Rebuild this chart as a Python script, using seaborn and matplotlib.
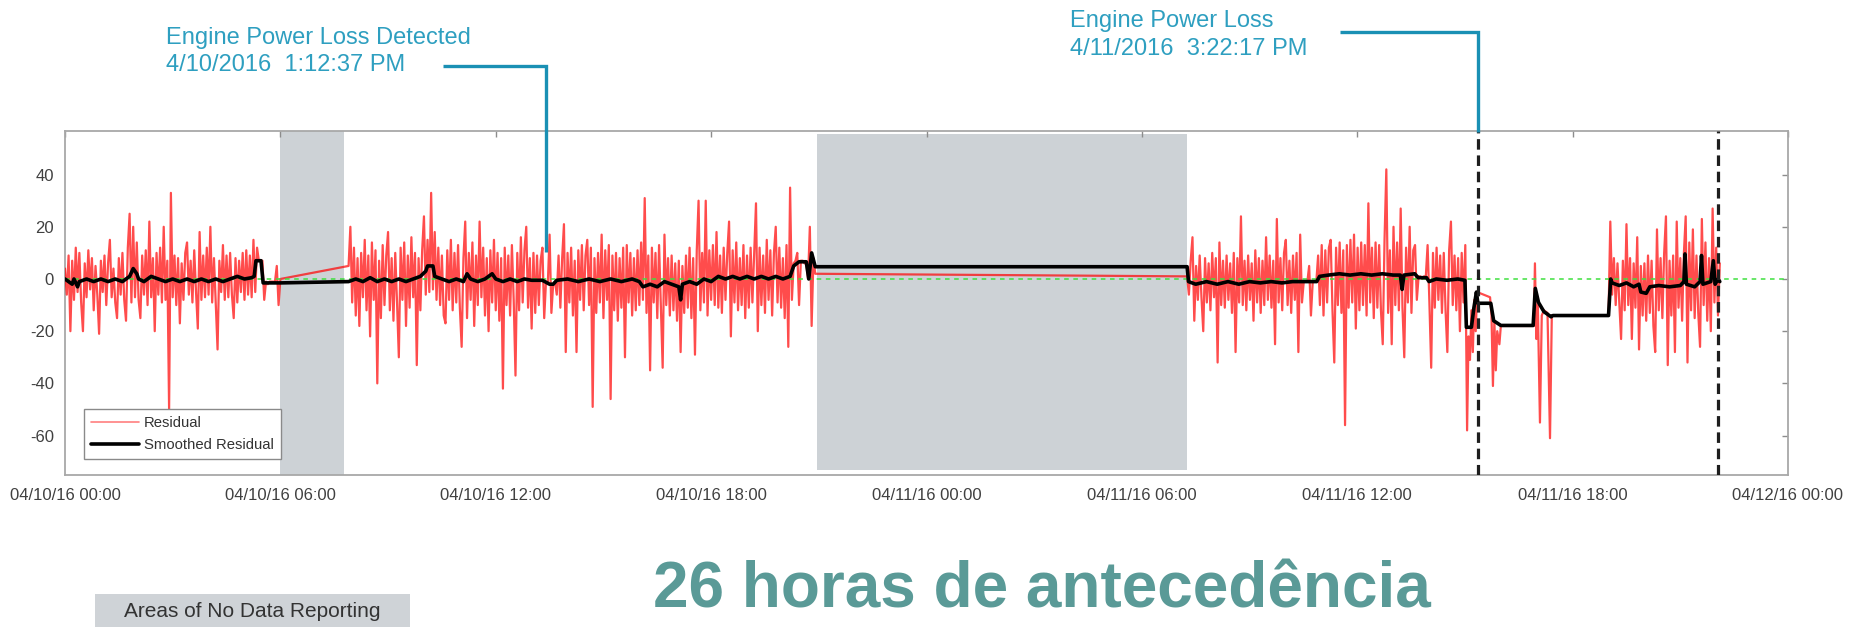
import matplotlib
matplotlib.use("Agg")
import numpy as np
import pandas as pd
import matplotlib.pyplot as plt
import matplotlib.dates as mdates
from matplotlib.lines import Line2D
from matplotlib.patches import Rectangle
import seaborn as sns

# ---------------------------------------------------------------- data
START = pd.Timestamp("2016-04-10 00:00")
STEP_MIN = 3  # sampling step of the dense residual segments (minutes)

# Residual, segment A (04/10 00:00 -> 06:00)
resid_a_start_h = 0.0
resid_a = [4, -6, 9, -20, 7, -8, 12, -5, 10, -9,
           -20, 6, -7, 11, -4, 8, -12, 5, -6, -21,
           7, -5, 9, -10, 6, 15, -7, 4, -9, -15,
           8, -6, 10, -8, -16, 12, 25, -9, 20, -7,
           14, -8, -15, 9, -6, 11, -10, 22, -7, 8,
           -20, 10, -6, 12, -9, 20, -8, 7, -50, 33,
           -7, 9, -10, 8, -17, 6, -8, 10, 14, -6,
           7, -9, 11, -5, -19, 18, -8, 9, -7, 12,
           -6, 20, -9, 8, -10, -27, 7, -5, 13, -8,
           9, -7, 10, -6, -15, 8, -9, 7, -5, 10,
           -8, 11, -6, 9, -7, 15, -5,
           12, 7, 7, 7, -8, -1, -2, -1, -1, -1, -1, 5, -10, 0]

# Residual, segment B (07:54 -> 13:39)
resid_b_start_h = 7.9
resid_b = [5, 20, -9, 12, -14, 8, -18, 10, -7, 15,
           -12, 9, -22, 14, -8, 11, -40, 7, -15, 13,
           -10, 9, 18, -12, 8, -16, 10, -9, -30, 12,
           -8, 14, -18, 9, -11, 16, -7, 10, -33, 8,
           -12, 11, 24, -6, 15, -5, 33, -4, 18, -8,
           12, -10, 9, -14, -17, 11, -8, 15, -12, 10,
           -9, 13, -11, -26, 8, 22, -15, 10, -8, 14,
           -18, 9, -10, 22, -7, 12, -14, 8, -20, 11,
           -9, 15, -12, 10, -16, 8, -42, 12, -10, 9,
           -14, 13, -8, -37, 10, -12, 16, -9, 11, 20,
           -11, 8, -19, 10, -13, 9, -10, 7, 12, -15,
           -1, -2, 17, -13, -2, -1]

# Residual, segment C (13:42 -> 20:54)
resid_c_start_h = 13.7
resid_c = [-6, 9, -11, 8, 21, -28, 10, -9, 12, -14,
           7, -28, 11, -8, 13, -12, 9, 15, -10, 12,
           -49, 8, -13, 10, -9, 17, -15, 11, -8, 13,
           -46, 9, -12, 10, -16, 8, -11, 12, -30, 13,
           -9, 10, -14, 8, -12, 11, -10, 14, -8, 31,
           -13, 9, -35, 12, -9, 10, -15, 13, -11, -34,
           17, -10, 8, -14, 9, -12, 6, -16, 7, -28,
           5, -13, 9, -11, 12, -15, 8, -29, 11, 30,
           -12, 10, -9, 30, -14, 11, -8, 13, -10, 18,
           -11, 9, -13, 12, -8, 10, 22, -22, 11, -9,
           14, -12, 8, -10, 13, -15, 9, -11, 12, -9,
           10, 29, -20, 12, -10, 9, -13, 15, -8, 11,
           -14, 10, 20, -9, 12, -11, 8, -15, 13, -26,
           35, -8, 6, 7, 10, -10, 7, 7, 6, 6,
           0, 20, -18, 8, 2]

# Residual, segment D (04/11 07:16 -> 15:04)
resid_d_start_h = 31.26
resid_d = [1, -6, 7, 16, -16, 5, -8, 9, -7, -20,
           8, -9, 6, -12, 10, -7, 8, -32, 14, -10,
           7, -11, 9, -8, 6, -13, 10, -28, 8, -9,
           24, -10, 7, -12, 9, -8, 6, -16, 11, -9,
           8, -13, 7, -10, 16, -8, 9, -11, 7, -25,
           23, -9, 8, -12, 10, 15, -10, 7, -13, 9,
           -8, 10, -28, 17, -9, -1, -1, -1, 5, -14,
           -1, -1, -1, 9, -10, 13, -14, 11, -9, 12,
           15, -12, -32, 12, -10, 14, -13, 11, -56, 13,
           -11, 15, -9, 17, -19, 12, -12, 14, -10, 13,
           -14, 29, -9, 12, -15, 14, -11, 13, -12, -25,
           15, 42, -13, 11, -25, 20, -10, 14, -12, 27,
           -11, -30, 12, -9, 20, -13, 11, 13, -8, 1,
           1, 0, 1, 1, 13, -9, -34, 10, -11, 12,
           -8, 9, -13, 10, -12, -28, 11, 22, -10, 9,
           -12, 8, -20, 10, -9, 13, -58]

# Residual after the power loss (sparse readings)
resid_p_hours = [39.10, 39.14, 39.18, 39.22, 39.26, 39.30, 39.34, 39.70, 39.74,
                 39.78, 39.82, 39.86, 39.90, 39.96, 40.00, 40.92, 40.95, 40.99,
                 41.03, 41.09, 41.14, 41.20, 41.30, 41.37, 41.42]
resid_p = [-22, -31, -12, -28, -8, -20, -5, -7, -14, -41, -16, -35, -20, -25,
           -18, -18, 6, -23, -10, -55, -14, -12, -13, -61, -14]

# Residual, segment E (04/11 19:00 -> 22:06)
resid_e_start_h = 43.0
resid_e = [-14, 22, -6, 8, -10, 6, -9, -23, 7, -12,
           21, -10, 8, -23, 6, -11, 16, -27, 5, -14,
           6, -16, 9, -13, 7, -18, -28, 19, -12, 8,
           -15, 10, 24, -33, 7, -14, 9, -28, 22, -11,
           8, -16, 10, 24, -32, 14, -12, 19, -15, 9,
           -13, -26, 23, -10, 14, -16, 8, -20, 27, -9,
           12, -14, 6]

# Smoothed residual
smooth_hours = [0.0, 0.1, 0.2, 0.25, 0.35, 0.4, 0.6, 0.8, 1.0, 1.2, 1.4, 1.6, 1.8,
                1.9, 2.0, 2.05, 2.2, 2.4, 2.6, 2.8, 3.0, 3.2, 3.4, 3.6, 3.8, 4.0,
                4.2, 4.4, 4.6, 4.8, 5.0, 5.2, 5.27, 5.32, 5.46, 5.52, 6.0, 7.9,
                8.1, 8.3, 8.5, 8.7, 8.9, 9.1, 9.3, 9.5, 9.7, 9.9, 10.05, 10.1,
                10.25, 10.3, 10.5, 10.7, 10.9, 11.1, 11.2, 11.3, 11.5, 11.7, 11.9,
                12.0, 12.2, 12.4, 12.6, 12.8, 13.0, 13.3, 13.5, 13.6, 13.7,
                14.0, 14.3, 14.6, 14.9, 15.2, 15.5, 15.8, 16.0, 16.1, 16.3, 16.5,
                16.7, 16.9, 17.1, 17.15, 17.2, 17.4, 17.6, 17.8, 18.0, 18.2, 18.4,
                18.6, 18.8, 19.0, 19.2, 19.4, 19.6, 19.8, 20.0, 20.2, 20.3, 20.45,
                20.65, 20.72, 20.8, 20.9, 31.26, 31.3,
                31.5, 31.8, 32.1, 32.4, 32.7, 33.0, 33.3, 33.6, 33.9, 34.2, 34.49,
                34.87, 34.95, 35.2, 35.5, 35.8, 36.1, 36.4, 36.7, 37.0, 37.2,
                37.25, 37.3, 37.6, 37.7, 37.93, 38.0, 38.2, 38.5, 38.8, 39.0,
                39.04, 39.18, 39.25, 39.32, 39.36, 39.72, 39.8, 40.0, 40.9, 40.96,
                41.05, 41.2, 41.4, 41.45, 43.0, 43.06,
                43.1, 43.3, 43.5, 43.7, 43.85, 43.9, 44.05, 44.15, 44.4, 44.7,
                45.0, 45.1, 45.13, 45.17, 45.4, 45.55, 45.59, 45.63, 45.85, 45.92,
                45.97, 46.05, 46.1]
smooth_vals = [0, -1, -2, 0, -3, -1, 0, -1, 0, -1, 0, -1, 1,
               4, 2, 0, -1, 1, 0, -1, 0, -1, 0, -1, 0, -1,
               0, -1, 0, 1, 0, 0.5, 1, 7, 7, -1.5, -1.5, -1,
               0, -1, 0.5, -1, 0, -1, 0, -1, 0, 1, 3, 5,
               5, 1, 0, -1, 0, -1, 2, 0, -1, 0, 2,
               0, -1, 0, -1, 0, -0.5, -0.5, -2, -2, -0.5,
               0, -1, 0, -1, 0, -1, 0, -1, -3, -2, -3,
               -1, -2, -3, -8, -2, -1, -2, 0, -1, 1, 0,
               1, 0, 1, 0, 1, 0, 1, 0, 1, 5, 6.6,
               6.6, 0, 10, 4.7, 4.7, -1,
               -2, -1, -2, -1, -2, -1, -1.5, -1, -1.5, -1, -1,
               -1, 1, 1.5, 2, 1.5, 2, 1.5, 2, 1.5, 1.5,
               -4, 1.5, 2, 0.5, 0.5, -1, 0, -0.5, 0, -0.5,
               -18.5, -18.5, -11, -5, -9.3, -9.3, -16, -17.8, -17.8, -3.6,
               -9, -12.5, -14.5, -14, -14, 0,
               -1.5, -2.5, -1.5, -3, -2, -5, -5.5, -3, -2.5, -3,
               -2.5, -1, 9.6, -2, -3, -1, 9, -2, -1, 7,
               -2, 0, -1]

# Periods with no data reporting (hours from 04/10 00:00)
nodata_start_h = [6.0, 20.95]
nodata_end_h = [7.77, 31.26]
power_loss_h = 39.36
window_end_h = 46.06

xtick_hours = [0, 6, 12, 18, 24, 30, 36, 42, 48]
yticks = [-60, -40, -20, 0, 20, 40]
ylim = (-75.1, 56.7)

# ---------------------------------------------------------------- helpers
def hours_to_time(h):
    return START + pd.to_timedelta(np.asarray(h, dtype=float), unit="h")


def regular(start_h, vals):
    hours = start_h + np.arange(len(vals)) * STEP_MIN / 60.0
    return pd.DataFrame({"time": hours_to_time(hours), "value": vals})


resid_df = pd.concat([
    regular(resid_a_start_h, resid_a),
    regular(resid_b_start_h, resid_b),
    regular(resid_c_start_h, resid_c),
    regular(resid_d_start_h, resid_d),
    pd.DataFrame({"time": hours_to_time(resid_p_hours), "value": resid_p}),
    regular(resid_e_start_h, resid_e),
], ignore_index=True)

smooth_df = pd.DataFrame({"time": hours_to_time(smooth_hours), "value": smooth_vals})

def num(h):
    return mdates.date2num(hours_to_time(h))

# ---------------------------------------------------------------- style
sns.set_style("white")
plt.rcParams["font.family"] = ["Liberation Sans", "DejaVu Sans"]
plt.rcParams["axes.unicode_minus"] = False

W, H = 1854, 627
fig = plt.figure(figsize=(W / 100, H / 100), dpi=100)
ax = fig.add_axes([65 / W, 1 - 475 / H, 1723 / W, 344 / H])

GRAY = "#cdd2d6"

sns.lineplot(data=resid_df, x="time", y="value", estimator=None, sort=False,
             color="#ff0000", lw=1.6, alpha=0.7, label="Residual", ax=ax, zorder=3)
ax.axhline(0, color="#3fe03f", lw=1.1, ls=(0, (3, 3)), zorder=4)
sns.lineplot(data=smooth_df, x="time", y="value", estimator=None, sort=False,
             color="black", lw=2.6, label="Smoothed Residual", ax=ax, zorder=5)

# no data spans
ax.axvspan(num(nodata_start_h[0]), num(nodata_end_h[0]), color=GRAY, lw=0, zorder=0)
ax.axvspan(num(nodata_start_h[1]), num(nodata_end_h[1]), ymin=0.0145, ymax=0.992,
           color=GRAY, lw=0, zorder=0)

# event lines
for h in (power_loss_h, window_end_h):
    ax.axvline(num(h), color="#1e1e1e", lw=2.3, ls=(0, (3.3, 1.8)), zorder=6)

ax.set_xlim(num(0), num(48))
ax.set_ylim(*ylim)
ax.set_xticks(num(xtick_hours))
ax.xaxis.set_major_formatter(mdates.DateFormatter("%m/%d/%y %H:%M"))
ax.set_yticks(yticks)
ax.set_xlabel("")
ax.set_ylabel("")

for s in ax.spines.values():
    s.set_color("#a8a8a8")
    s.set_linewidth(1.3)
ax.tick_params(axis="both", direction="in", length=4.5, width=1.0, color="#8c8c8c",
               labelsize=12, labelcolor="#404040", top=True, right=True)
ax.tick_params(axis="x", pad=9)
ax.tick_params(axis="y", pad=8)

leg = ax.legend(loc="lower left", bbox_to_anchor=(0.011, 0.046), borderaxespad=0,
                fontsize=10.7, frameon=True, fancybox=False, framealpha=1,
                edgecolor="#8a8a8a", borderpad=0.5, labelspacing=0.5,
                handlelength=3.2, handletextpad=0.35)
leg.get_frame().set_linewidth(1.0)
leg.legend_handles[0].set_linewidth(1.2)
leg.legend_handles[0].set_alpha(0.5)
for t in leg.get_texts():
    t.set_color("#333333")

# ---------------------------------------------------------------- annotations
ANN = "#2e9fc0"
LINE = "#1a90b4"

def fx(x):
    return x / W

def fy(y):
    return 1 - y / H

fig.text(fx(165.5), fy(51.5), "Engine Power Loss Detected\n4/10/2016  1:12:37 PM",
         ha="left", va="center", fontsize=17, color=ANN, linespacing=1.3)
fig.add_artist(Line2D([fx(443.4), fx(546.3), fx(546.3)], [fy(66.2), fy(66.2), fy(251.9)],
                      transform=fig.transFigure, color=LINE, lw=2.4,
                      solid_capstyle="butt", solid_joinstyle="miter"))

fig.text(fx(1070), fy(35), "Engine Power Loss\n4/11/2016  3:22:17 PM",
         ha="left", va="center", fontsize=17, color=ANN, linespacing=1.3)
fig.add_artist(Line2D([fx(1339.7), fx(1478), fx(1478)], [fy(31.9), fy(31.9), fy(132.4)],
                      transform=fig.transFigure, color=LINE, lw=2.4,
                      solid_capstyle="butt", solid_joinstyle="miter"))

fig.text(fx(1042), fy(607.8), "26 horas de antecedência", ha="center", va="baseline",
         fontsize=46, fontweight="bold", color="#5a9a97")

fig.add_artist(Rectangle((fx(94.6), 0), 315.7 / W, 33.4 / H, transform=fig.transFigure,
                         facecolor="#cfd3d7", edgecolor="none"))
fig.text(fx(252.5), fy(611.5), "Areas of No Data Reporting", ha="center", va="center",
         fontsize=15, color="#333333")

fig.savefig("out.png", dpi=100)
